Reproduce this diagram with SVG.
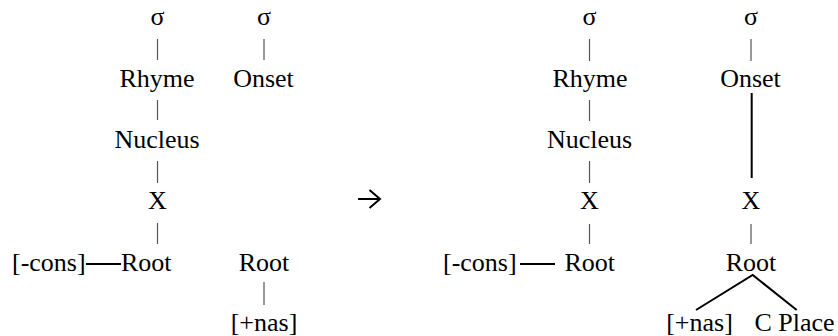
<svg xmlns="http://www.w3.org/2000/svg" width="838" height="336" viewBox="0 0 838 336">
<style>
.t{font-family:'Liberation Serif','Times New Roman',serif;font-size:26px;fill:#000}
.m{text-anchor:middle}
.p{stroke:#555;stroke-width:1.2;fill:none}
.l{stroke:#000;stroke-width:2;fill:none}
</style>
<rect width="838" height="336" fill="#fff"/>
<g id="connectors">
<line class="p" x1="157.5" y1="39" x2="157.5" y2="60"/>
<line class="p" x1="157.5" y1="100" x2="157.5" y2="120"/>
<line class="p" x1="157.5" y1="161" x2="157.5" y2="183"/>
<line class="p" x1="157.5" y1="223" x2="157.5" y2="244"/>
<line class="l" x1="86" y1="264" x2="121" y2="264"/>
<line class="p" x1="264" y1="39" x2="264" y2="60"/>
<line class="p" x1="264" y1="282" x2="264" y2="305"/>
<line class="p" x1="589.5" y1="39" x2="589.5" y2="61"/>
<line class="p" x1="589.5" y1="100" x2="589.5" y2="121"/>
<line class="p" x1="589.5" y1="161" x2="589.5" y2="183"/>
<line class="p" x1="589.5" y1="224" x2="589.5" y2="244"/>
<line class="l" x1="520" y1="264" x2="555" y2="264"/>
<line class="p" x1="751" y1="39" x2="751" y2="61"/>
<line class="l" x1="751.7" y1="93" x2="751.7" y2="178"/>
<line class="p" x1="751" y1="224" x2="751" y2="244"/>
<polyline class="l" points="696,310 752.7,275 796.7,310"/>
</g>
<g id="arrow">
<line class="l" x1="358" y1="199" x2="379" y2="199" stroke-width="2.5"/>
<polyline class="l" points="369.5,190 380,199 369.5,208" stroke-width="2.5"/>
</g>
<g class="t" font-family="Liberation Serif, serif" font-size="26">
<g id="L-sigma1"><text class="m" x="157.5" y="25">σ</text></g>
<g id="L-rhyme"><text class="m" x="157" y="87">Rhyme</text></g>
<g id="L-nucleus"><text class="m" x="157" y="148">Nucleus</text></g>
<g id="L-x"><text class="m" x="157.5" y="209">X</text></g>
<g id="L-root1"><text x="121" y="271">Root</text></g>
<g id="L-cons"><text x="12" y="271">[-cons]</text></g>
<g id="L-sigma2"><text class="m" x="264" y="25">σ</text></g>
<g id="L-onset"><text class="m" x="263.5" y="87">Onset</text></g>
<g id="L-root2"><text class="m" x="264" y="271">Root</text></g>
<g id="L-nas"><text class="m" x="264" y="331">[+nas]</text></g>
<g id="R-sigma1"><text class="m" x="589.5" y="25">σ</text></g>
<g id="R-rhyme"><text class="m" x="590" y="87">Rhyme</text></g>
<g id="R-nucleus"><text class="m" x="589.5" y="148">Nucleus</text></g>
<g id="R-x1"><text class="m" x="589.5" y="209">X</text></g>
<g id="R-root1"><text class="m" x="589.7" y="271">Root</text></g>
<g id="R-cons"><text x="443" y="271">[-cons]</text></g>
<g id="R-sigma2"><text class="m" x="751" y="25">σ</text></g>
<g id="R-onset"><text class="m" x="750.5" y="87">Onset</text></g>
<g id="R-x2"><text class="m" x="751" y="209">X</text></g>
<g id="R-root2"><text class="m" x="751" y="271">Root</text></g>
<g id="R-nas"><text class="m" x="699.5" y="331">[+nas]</text></g>
<g id="R-cplace"><text x="754.5" y="331">C Place</text></g>
</g>
</svg>
